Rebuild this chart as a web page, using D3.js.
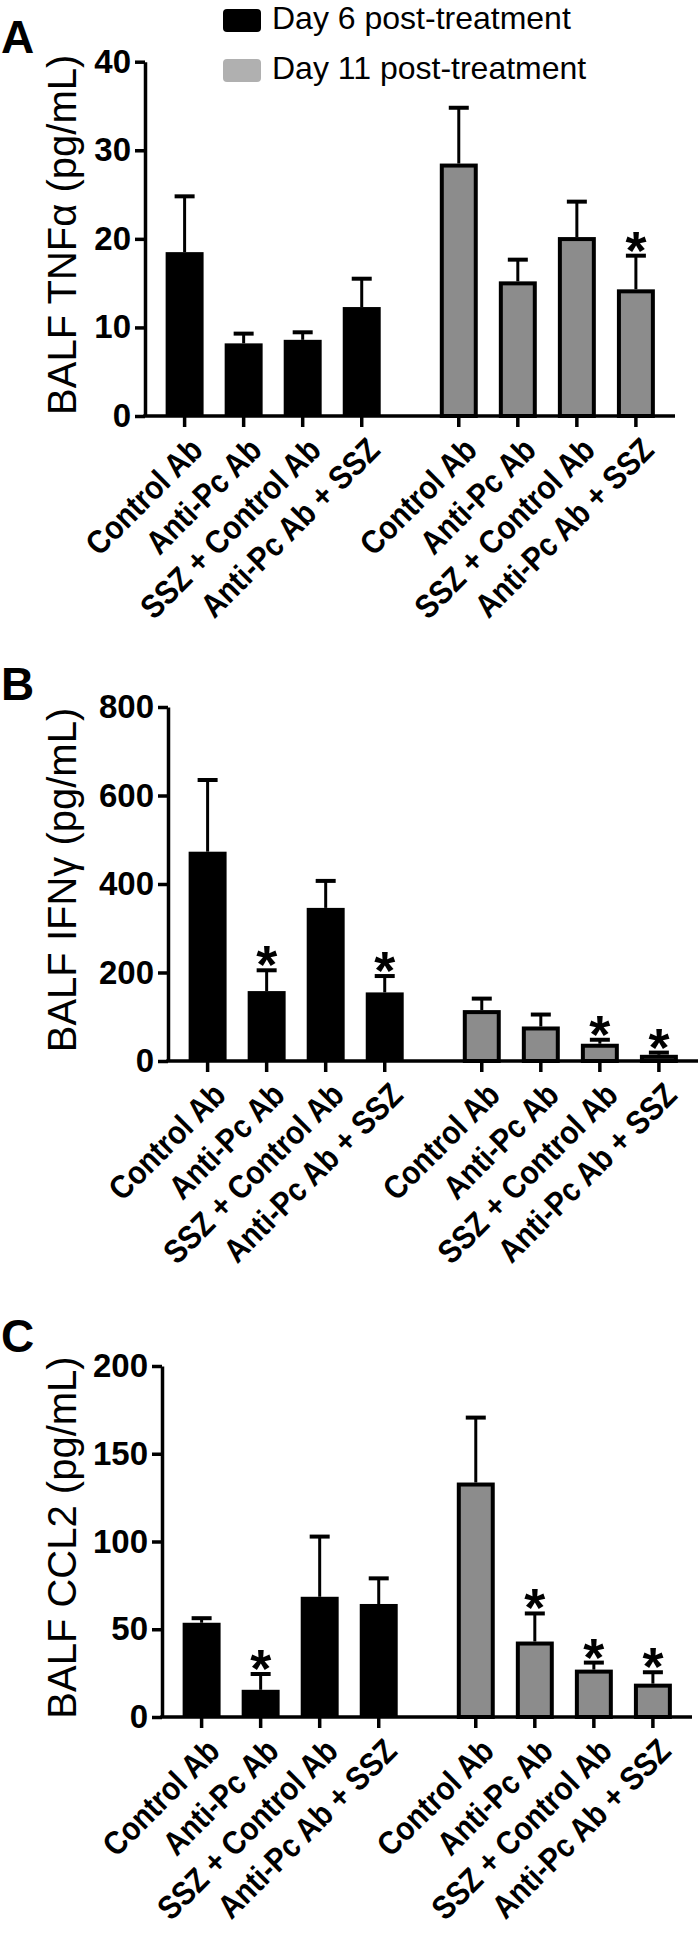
<!DOCTYPE html>
<html>
<head>
<meta charset="utf-8">
<script src="https://cdn.jsdelivr.net/npm/d3@7"></script>
<style>
  body { margin: 0; background: #fff; }
  svg { display: block; font-family: "Liberation Sans", Arial, sans-serif; }
</style>
</head>
<body>
<svg id="chart" width="700" height="1937"></svg>
<script>
// categories
const treatments = ['Control Ab', 'Anti-Pc Ab', 'SSZ + Control Ab', 'Anti-Pc Ab + SSZ'];
const days = ['Day 6 post-treatment', 'Day 11 post-treatment'];

// A: BALF TNFα (mean, SEM)
const tnfDay6 = [18.5, 8.2, 8.6, 12.3];
const tnfDay6Sem = [6.3, 1.1, 0.85, 3.2];
const tnfDay11 = [28.5, 15.2, 20.2, 14.3];
const tnfDay11Sem = [6.3, 2.45, 4.0, 3.8];
const tnfStars = [[], [3]];
const tnfTicks = [0, 10, 20, 30, 40];

// B: BALF IFNγ
const ifnDay6 = [473, 158, 346, 155];
const ifnDay6Sem = [162, 47, 61, 37];
const ifnDay11 = [115, 78, 39, 14];
const ifnDay11Sem = [26, 27, 9, 5];
const ifnStars = [[1, 3], [2, 3]];
const ifnTicks = [0, 200, 400, 600, 800];

// C: BALF CCL2
const cclDay6 = [53.7, 15.5, 68.5, 64.4];
const cclDay6Sem = [2.6, 9, 34.3, 14.6];
const cclDay11 = [133.6, 43, 27, 19];
const cclDay11Sem = [37, 16, 4, 6.5];
const cclStars = [[1], [1, 2, 3]];
const cclTicks = [0, 50, 100, 150, 200];

const fills = ['#000', '#8c8c8c'];
const legendFills = ['#000', '#b0b0b0'];

const svg = d3.select('#chart');

// Layout of each panel (pixel positions)
const panels = [
  { letter: 'A', letterY: 53, title: 'BALF TNFα (pg/mL)', ticks: tnfTicks,
    means: [tnfDay6, tnfDay11], sems: [tnfDay6Sem, tnfDay11Sem], stars: tnfStars,
    axisX: 145, top: 61.7, bottom: 416, legend: true },
  { letter: 'B', letterY: 700, title: 'BALF IFNγ (pg/mL)', ticks: ifnTicks,
    means: [ifnDay6, ifnDay11], sems: [ifnDay6Sem, ifnDay11Sem], stars: ifnStars,
    axisX: 168, top: 707, bottom: 1061 },
  { letter: 'C', letterY: 1352, title: 'BALF CCL2 (pg/mL)', ticks: cclTicks,
    means: [cclDay6, cclDay11], sems: [cclDay6Sem, cclDay11Sem], stars: cclStars,
    axisX: 162, top: 1366, bottom: 1717 }
];

panels.forEach(p => drawPanel(p));

function drawPanel(p) {
  const g = svg.append('g');

  const y = d3.scaleLinear()
    .domain([p.ticks[0], p.ticks[p.ticks.length - 1]])
    .range([p.bottom, p.top]);

  // outer band: day groups, inner band: treatments
  const xGroup = d3.scaleBand()
    .domain(days)
    .range([p.axisX + 10, p.axisX + 520.5])
    .paddingInner(0.138);

  const xBar = d3.scaleBand()
    .domain(treatments)
    .range([0, xGroup.bandwidth()])
    .paddingInner(0.357)
    .paddingOuter(0.18);

  const rows = [];
  days.forEach((day, di) => {
    treatments.forEach((t, ti) => {
      rows.push({
        day, di, t, ti,
        mean: p.means[di][ti],
        sem: p.sems[di][ti],
        star: p.stars[di].includes(ti)
      });
    });
  });

  const cx = d => xGroup(d.day) + xBar(d.t) + xBar.bandwidth() / 2;

  // panel letter
  g.append('text')
    .attr('x', 1)
    .attr('y', p.letterY)
    .attr('font-size', '46px')
    .attr('font-weight', 'bold')
    .text(p.letter);

  // y-axis title
  g.append('text')
    .attr('transform', `translate(76, ${(p.top + p.bottom) / 2 - 4}) rotate(-90)`)
    .attr('text-anchor', 'middle')
    .attr('font-size', '40px')
    .text(p.title);

  // error bars (upper only)
  const err = g.append('g').selectAll('g')
    .data(rows)
    .enter()
    .append('g');

  err.append('line')
    .attr('x1', cx).attr('x2', cx)
    .attr('y1', d => y(d.mean))
    .attr('y2', d => y(d.mean + d.sem))
    .attr('stroke', '#000')
    .attr('stroke-width', 3);

  err.append('line')
    .attr('x1', d => cx(d) - 10).attr('x2', d => cx(d) + 10)
    .attr('y1', d => y(d.mean + d.sem))
    .attr('y2', d => y(d.mean + d.sem))
    .attr('stroke', '#000')
    .attr('stroke-width', 4);

  // bars
  g.append('g').selectAll('rect')
    .data(rows)
    .enter()
    .append('rect')
    .attr('x', d => xGroup(d.day) + xBar(d.t) + (d.di ? 2 : 0))
    .attr('width', d => xBar.bandwidth() - (d.di ? 4 : 0))
    .attr('y', d => y(d.mean) + (d.di ? 2 : 0))
    .attr('height', d => Math.max(0, p.bottom - y(d.mean) - (d.di ? 2 : 0)))
    .attr('fill', d => fills[d.di])
    .attr('stroke', '#000')
    .attr('stroke-width', d => d.di ? 4 : 0);

  // significance stars
  g.append('g').selectAll('text')
    .data(rows.filter(d => d.star))
    .enter()
    .append('text')
    .attr('x', cx)
    .attr('y', d => y(d.mean + d.sem) + 13)
    .attr('text-anchor', 'middle')
    .attr('font-size', '54px')
    .attr('font-weight', 'bold')
    .text('*');

  // y axis
  const yAxis = g.append('g')
    .attr('transform', `translate(${p.axisX},0)`)
    .call(d3.axisLeft(y).tickValues(p.ticks).tickSize(10).tickSizeOuter(0).tickPadding(4).tickFormat(d3.format('d')));
  yAxis.select('.domain').attr('stroke-width', 3.5);
  yAxis.selectAll('.tick line').attr('stroke-width', 3.5);
  yAxis.selectAll('.tick text')
    .attr('font-size', '33px')
    .attr('font-weight', 'bold')
    .attr('font-family', '"Liberation Sans", Arial, sans-serif')
    .attr('fill', '#000');

  // x axis line
  g.append('line')
    .attr('x1', p.axisX - 1.75)
    .attr('x2', p.axisX + 530)
    .attr('y1', p.bottom)
    .attr('y2', p.bottom)
    .attr('stroke', '#000')
    .attr('stroke-width', 3.5);

  // x ticks and rotated labels
  const xt = g.append('g').selectAll('g')
    .data(rows)
    .enter()
    .append('g')
    .attr('transform', d => `translate(${cx(d)},${p.bottom})`);

  xt.append('line')
    .attr('y1', 0)
    .attr('y2', 11)
    .attr('stroke', '#000')
    .attr('stroke-width', 3.5);

  // GraphPad-style labels: a little narrower than plain Arial Bold
  xt.append('text')
    .attr('transform', 'translate(20,36) rotate(-45) scale(0.88,1)')
    .attr('text-anchor', 'end')
    .attr('font-size', '33px')
    .attr('font-weight', 'bold')
    .text(d => d.t);

  if (p.legend) addLegend(g);
}

function addLegend(g) {
  const legend = g.append('g');
  days.forEach((day, i) => {
    const yy = 9 + i * 50;
    legend.append('rect')
      .attr('x', 223)
      .attr('y', yy)
      .attr('width', 38)
      .attr('height', 23)
      .attr('rx', 4)
      .attr('fill', legendFills[i]);
    legend.append('text')
      .attr('x', 272)
      .attr('y', yy + 20)
      .attr('font-size', '32px')
      .text(day);
  });
}
</script>
</body>
</html>
